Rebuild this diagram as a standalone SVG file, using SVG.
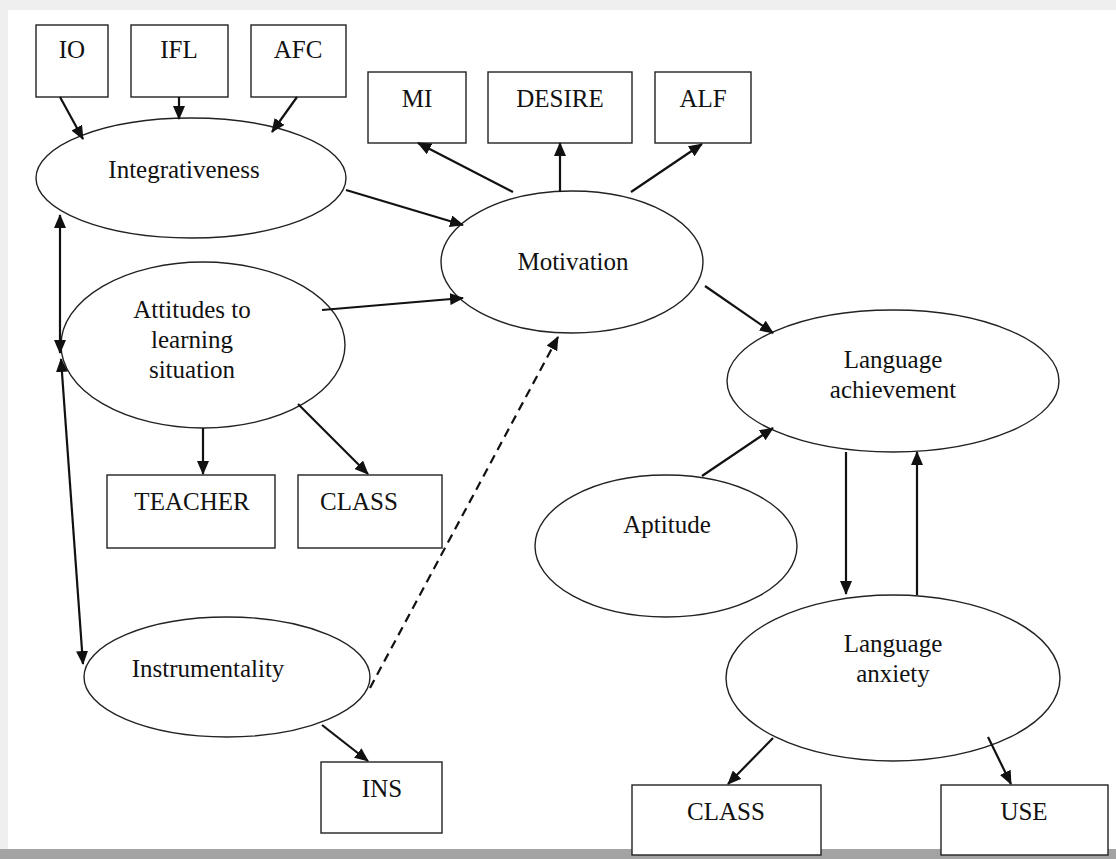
<svg xmlns="http://www.w3.org/2000/svg" width="1116" height="859" viewBox="0 0 1116 859">
<style>
.node ellipse, .node rect { fill: #fff; stroke: #222; stroke-width: 1.4; }
text { font-family: "Liberation Serif", "Times New Roman", serif; font-size: 25px; fill: #111; text-anchor: middle; }
.conn line { stroke: #111; stroke-width: 2.2; fill: none; }
.conn .dash { stroke-dasharray: 9 6; }
</style>
<defs>
<marker id="ah" viewBox="0 0 14 12" refX="13" refY="6" markerWidth="14" markerHeight="12" markerUnits="userSpaceOnUse" orient="auto-start-reverse">
<path d="M0,0 L14,6 L0,12 z" fill="#111"/>
</marker>
</defs>
<rect x="0" y="0" width="1116" height="859" fill="#efefef"/>
<rect x="8" y="10" width="1108" height="840" fill="#fff"/>
<rect x="0" y="849" width="1116" height="10" fill="#a3a3a3"/>

<g id="IO" class="node"><rect x="36" y="25" width="72" height="72"/><text x="72" y="58">IO</text></g>
<g id="IFL" class="node"><rect x="131" y="25" width="97" height="72"/><text x="179" y="58">IFL</text></g>
<g id="AFC" class="node"><rect x="251" y="25" width="95" height="72"/><text x="298" y="58">AFC</text></g>
<g id="MI" class="node"><rect x="368" y="72" width="98" height="71"/><text x="417" y="107">MI</text></g>
<g id="DESIRE" class="node"><rect x="488" y="72" width="144" height="71"/><text x="560" y="107">DESIRE</text></g>
<g id="ALF" class="node"><rect x="655" y="72" width="96" height="71"/><text x="703" y="107">ALF</text></g>
<g id="Integrativeness" class="node"><ellipse cx="191" cy="178" rx="155" ry="60"/><text x="184" y="178">Integrativeness</text></g>
<g id="Motivation" class="node"><ellipse cx="572" cy="262" rx="131" ry="71"/><text x="573" y="270">Motivation</text></g>
<g id="Attitudes" class="node"><ellipse cx="203" cy="345" rx="142" ry="83"/><text x="192" y="318">Attitudes to</text><text x="192" y="348">learning</text><text x="192" y="378">situation</text></g>
<g id="TEACHER" class="node"><rect x="107" y="475" width="168" height="73"/><text x="192" y="510">TEACHER</text></g>
<g id="CLASS1" class="node"><rect x="298" y="475" width="144" height="73"/><text x="359" y="510">CLASS</text></g>
<g id="Instrumentality" class="node"><ellipse cx="227" cy="677" rx="143" ry="60"/><text x="208" y="677">Instrumentality</text></g>
<g id="INS" class="node"><rect x="321" y="762" width="121" height="71"/><text x="382" y="797">INS</text></g>
<g id="LanguageAchievement" class="node"><ellipse cx="893" cy="381" rx="166" ry="71"/><text x="893" y="368">Language</text><text x="893" y="398">achievement</text></g>
<g id="Aptitude" class="node"><ellipse cx="666" cy="546" rx="131" ry="71"/><text x="667" y="533">Aptitude</text></g>
<g id="LanguageAnxiety" class="node"><ellipse cx="893" cy="678" rx="167" ry="83"/><text x="893" y="652">Language</text><text x="893" y="682">anxiety</text></g>
<g id="CLASS2" class="node"><rect x="632" y="785" width="189" height="70"/><text x="726" y="820">CLASS</text></g>
<g id="USE" class="node"><rect x="941" y="785" width="167" height="70"/><text x="1024" y="820">USE</text></g>

<g id="connectors" class="conn">
<line x1="60" y1="97" x2="83" y2="139" marker-end="url(#ah)"/>
<line x1="179" y1="97" x2="179" y2="119" marker-end="url(#ah)"/>
<line x1="297" y1="97" x2="272" y2="132" marker-end="url(#ah)"/>
<line x1="346" y1="190" x2="463" y2="225" marker-end="url(#ah)"/>
<line x1="322" y1="310" x2="463" y2="298" marker-end="url(#ah)"/>
<line x1="513" y1="192" x2="418" y2="143" marker-end="url(#ah)"/>
<line x1="560" y1="192" x2="560" y2="143" marker-end="url(#ah)"/>
<line x1="631" y1="192" x2="702" y2="144" marker-end="url(#ah)"/>
<line x1="705" y1="286" x2="773" y2="333" marker-end="url(#ah)"/>
<line x1="702" y1="476" x2="773" y2="428" marker-end="url(#ah)"/>
<line x1="846" y1="452" x2="846" y2="594" marker-end="url(#ah)"/>
<line x1="917" y1="595" x2="917" y2="452" marker-end="url(#ah)"/>
<line x1="773" y1="738" x2="728" y2="784" marker-end="url(#ah)"/>
<line x1="988" y1="737" x2="1011" y2="784" marker-end="url(#ah)"/>
<line x1="60" y1="215" x2="60" y2="353" marker-start="url(#ah)" marker-end="url(#ah)"/>
<line x1="61" y1="359" x2="83" y2="664" marker-start="url(#ah)" marker-end="url(#ah)"/>
<line x1="203" y1="428" x2="203" y2="474" marker-end="url(#ah)"/>
<line x1="298" y1="404" x2="368" y2="474" marker-end="url(#ah)"/>
<line x1="322" y1="725" x2="368" y2="761" marker-end="url(#ah)"/>
<line class="dash" x1="370" y1="688" x2="558" y2="337" marker-end="url(#ah)"/>
</g>
</svg>
